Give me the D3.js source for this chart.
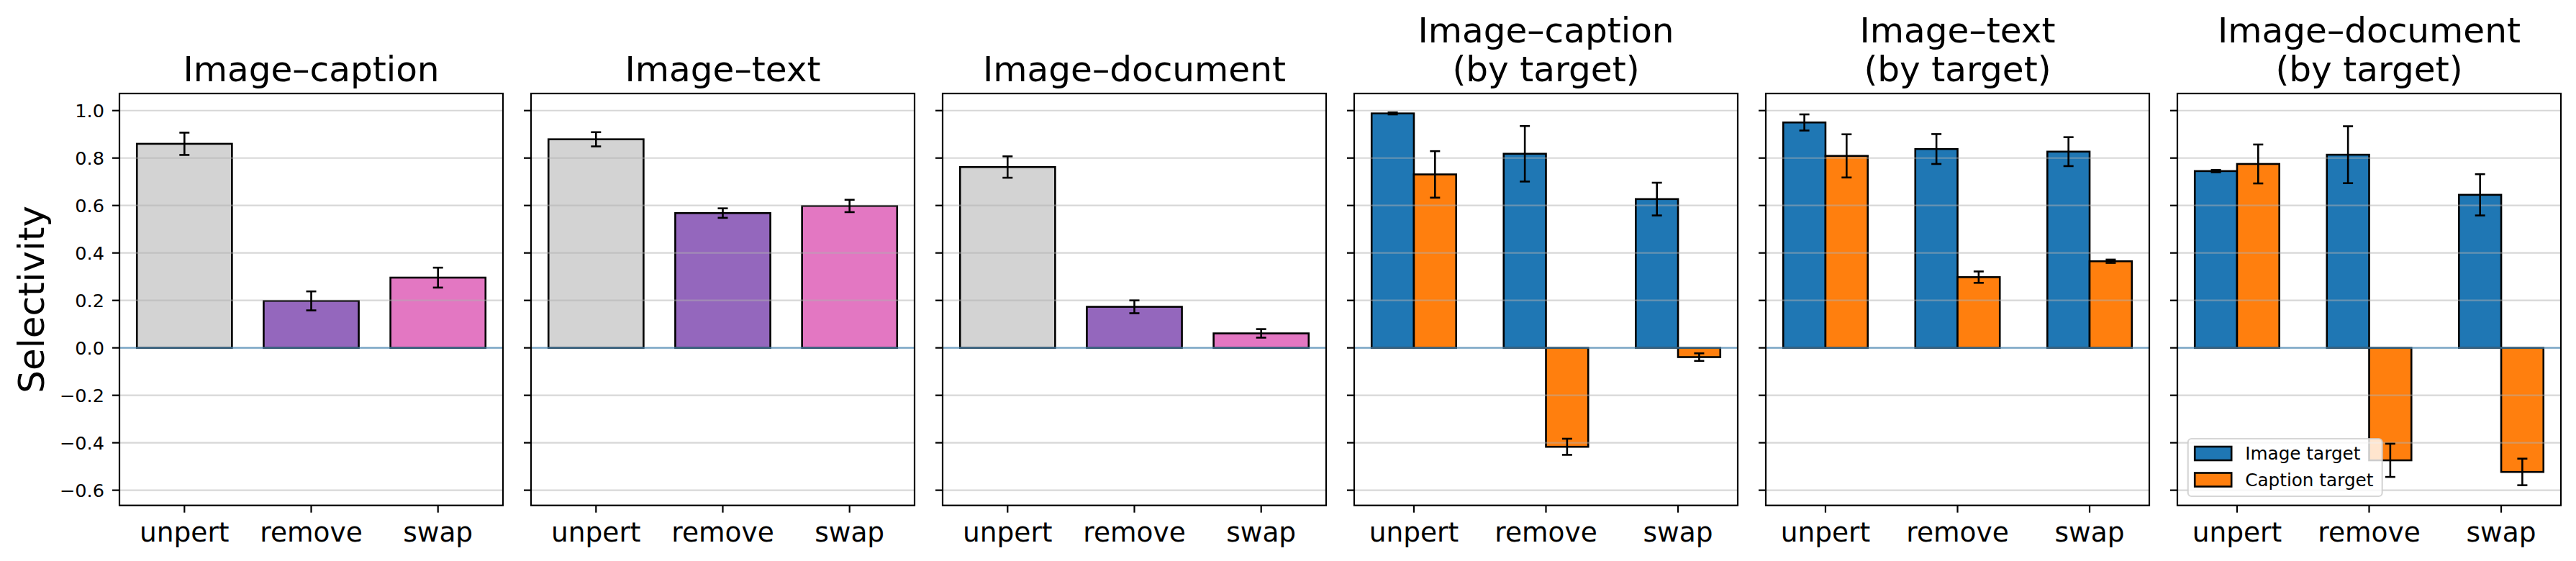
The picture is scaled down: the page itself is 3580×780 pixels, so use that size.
<!DOCTYPE html>
<html>
<head>
<meta charset="utf-8">
<script src="https://cdn.jsdelivr.net/npm/d3@7"></script>
<style>
body { margin: 0; background: white; }
text { font-family: "DejaVu Sans", sans-serif; }
</style>
</head>
<body>
<div id="chart"></div>
<script>
var w = 3580, h = 780;

// data
var categories = ["unpert", "remove", "swap"];
var titles = [["Image\u2013caption"], ["Image\u2013text"], ["Image\u2013document"],
  ["Image\u2013caption", "(by target)"], ["Image\u2013text", "(by target)"], ["Image\u2013document", "(by target)"]];
var yTicks = [-0.6, -0.4, -0.2, 0.0, 0.2, 0.4, 0.6, 0.8, 1.0];
var singleColors = ["lightgray", "#9467bd", "#e377c2"];
var seriesNames = ["Image target", "Caption target"];
var seriesColors = ["#1f77b4", "#ff7f0e"];

var capMeans = [0.86, 0.198, 0.296], capErr = [0.047, 0.04, 0.042];
var textMeans = [0.879, 0.568, 0.598], textErr = [0.03, 0.02, 0.026];
var docMeans = [0.762, 0.173, 0.061], docErr = [0.045, 0.027, 0.018];

var capImg = [0.988, 0.818, 0.627], capImgErr = [0.004, 0.117, 0.069];
var capCap = [0.731, -0.417, -0.039], capCapErr = [0.098, 0.034, 0.016];
var textImg = [0.950, 0.838, 0.827], textImgErr = [0.034, 0.063, 0.061];
var textCap = [0.809, 0.298, 0.365], textCapErr = [0.091, 0.024, 0.007];
var docImg = [0.745, 0.814, 0.645], docImgErr = [0.005, 0.12, 0.087];
var docCap = [0.775, -0.474, -0.523], docCapErr = [0.082, 0.07, 0.056];

var singles = [[capMeans, capErr], [textMeans, textErr], [docMeans, docErr]];
var groups = [[[capImg, capImgErr], [capCap, capCapErr]],
  [[textImg, textImgErr], [textCap, textCapErr]],
  [[docImg, docImgErr], [docCap, docCapErr]]];

var panelLeft = 166, panelStep = 572, panelW = 533, axTop = 130, axBottom = 702.7;
var lw = 2.2;

var svg = d3.select("#chart")
  .append("svg")
  .attr("width", w)
  .attr("height", h)
  .style("background", "white");

var y = d3.scaleLinear().domain([-0.664, 1.072]).range([axBottom, axTop]);

function fmt(v) {
  return d3.format(".1f")(v).replace("-", "\u2212");
}

function errBar(g, cx, v, e) {
  g.append("line").attr("x1", cx).attr("x2", cx)
    .attr("y1", y(v - e)).attr("y2", y(v + e))
    .attr("stroke", "black").attr("stroke-width", 2.6);
  [v - e, v + e].forEach(function(c) {
    g.append("line").attr("x1", cx - 7).attr("x2", cx + 7)
      .attr("y1", y(c)).attr("y2", y(c))
      .attr("stroke", "black").attr("stroke-width", 2.6);
  });
}

for (var i = 0; i < 6; i++) {
  var x0 = panelLeft + panelStep * i;
  var g = svg.append("g");
  var grouped = i >= 3;
  var bw = grouped ? 0.32 : 0.75;
  var halfSpan = grouped ? bw : bw / 2;
  var pad = 0.05 * (2 + 2 * halfSpan);
  var x = d3.scaleLinear().domain([-halfSpan - pad, 2 + halfSpan + pad]).range([x0, x0 + panelW]);

  // bars
  if (!grouped) {
    var d = singles[i];
    g.selectAll("rect.bar").data(categories).enter().append("rect")
      .attr("x", function(c, k) { return x(k - bw / 2); })
      .attr("width", x(bw) - x(0))
      .attr("y", function(c, k) { return y(Math.max(0, d[0][k])); })
      .attr("height", function(c, k) { return Math.abs(y(d[0][k]) - y(0)); })
      .style("fill", function(c, k) { return singleColors[k]; })
      .style("stroke", "black").style("stroke-width", 2.6);
  } else {
    var gd = groups[i - 3];
    gd.forEach(function(s, si) {
      g.selectAll("rect.s" + si).data(categories).enter().append("rect")
        .attr("x", function(c, k) { return x(k - bw + si * bw); })
        .attr("width", x(bw) - x(0))
        .attr("y", function(c, k) { return y(Math.max(0, s[0][k])); })
        .attr("height", function(c, k) { return Math.abs(y(s[0][k]) - y(0)); })
        .style("fill", seriesColors[si])
        .style("stroke", "black").style("stroke-width", 2.6);
    });
  }

  // grid (matplotlib draws it above the patches)
  g.selectAll("line.grid").data(yTicks).enter().append("line")
    .attr("x1", x0).attr("x2", x0 + panelW)
    .attr("y1", function(t) { return y(t); }).attr("y2", function(t) { return y(t); })
    .attr("stroke", "#b0b0b0").attr("stroke-opacity", 0.5).attr("stroke-width", lw);

  // zero line
  g.append("line").attr("x1", x0).attr("x2", x0 + panelW)
    .attr("y1", y(0)).attr("y2", y(0))
    .attr("stroke", "#1f77b4").attr("stroke-opacity", 0.55).attr("stroke-width", lw);

  // error bars
  if (!grouped) {
    categories.forEach(function(c, k) { errBar(g, x(k), singles[i][0][k], singles[i][1][k]); });
  } else {
    groups[i - 3].forEach(function(s, si) {
      categories.forEach(function(c, k) { errBar(g, x(k - bw / 2 + si * bw), s[0][k], s[1][k]); });
    });
  }

  // frame
  g.append("rect").attr("x", x0).attr("y", axTop).attr("width", panelW).attr("height", axBottom - axTop)
    .style("fill", "none").style("stroke", "black").style("stroke-width", lw);

  // y ticks
  g.selectAll("line.yt").data(yTicks).enter().append("line")
    .attr("x1", x0 - 10).attr("x2", x0)
    .attr("y1", function(t) { return y(t); }).attr("y2", function(t) { return y(t); })
    .attr("stroke", "black").attr("stroke-width", lw);
  if (i == 0) {
    g.selectAll("text.yt").data(yTicks).enter().append("text")
      .attr("x", x0 - 21).attr("y", function(t) { return y(t); })
      .attr("dy", "0.36em")
      .attr("text-anchor", "end")
      .style("font-size", "25.6px")
      .text(fmt);
  }

  // x ticks
  g.selectAll("line.xt").data(categories).enter().append("line")
    .attr("x1", function(c, k) { return x(k); }).attr("x2", function(c, k) { return x(k); })
    .attr("y1", axBottom).attr("y2", axBottom + 10)
    .attr("stroke", "black").attr("stroke-width", lw);
  g.selectAll("text.xt").data(categories).enter().append("text")
    .attr("x", function(c, k) { return x(k); })
    .attr("y", 752.7)
    .attr("text-anchor", "middle")
    .style("font-size", "37.5px")
    .text(function(c) { return c; });

  // title
  var t = titles[i];
  t.forEach(function(line, li) {
    g.append("text")
      .attr("x", x0 + panelW / 2)
      .attr("y", 113.3 - (t.length - 1 - li) * 54)
      .attr("text-anchor", "middle")
      .style("font-size", "48.5px")
      .text(line);
  });
}

// y label
svg.append("text")
  .attr("transform", "translate(61," + (axTop + axBottom) / 2 + ") rotate(-90)")
  .attr("text-anchor", "middle")
  .style("font-size", "50px")
  .text("Selectivity");

// legend in last panel
var lx = panelLeft + panelStep * 5 + 14.7, ly = 610;
var leg = svg.append("g");
leg.append("rect").attr("x", lx).attr("y", ly).attr("width", 270).attr("height", 80)
  .attr("rx", 5).attr("ry", 5)
  .style("fill", "white").style("fill-opacity", 0.8)
  .style("stroke", "#cccccc").style("stroke-opacity", 0.8).style("stroke-width", lw);
leg.selectAll("rect.h").data(seriesNames).enter().append("rect")
  .attr("x", lx + 9.5).attr("y", function(s, k) { return ly + 11 + k * 36.5; })
  .attr("width", 51).attr("height", 19)
  .style("fill", function(s, k) { return seriesColors[k]; })
  .style("stroke", "black").style("stroke-width", 2.6);
leg.selectAll("text").data(seriesNames).enter().append("text")
  .attr("x", lx + 79.5).attr("y", function(s, k) { return ly + 29.3 + k * 36.5; })
  .style("font-size", "24.7px")
  .text(function(s) { return s; });
</script>
</body>
</html>
